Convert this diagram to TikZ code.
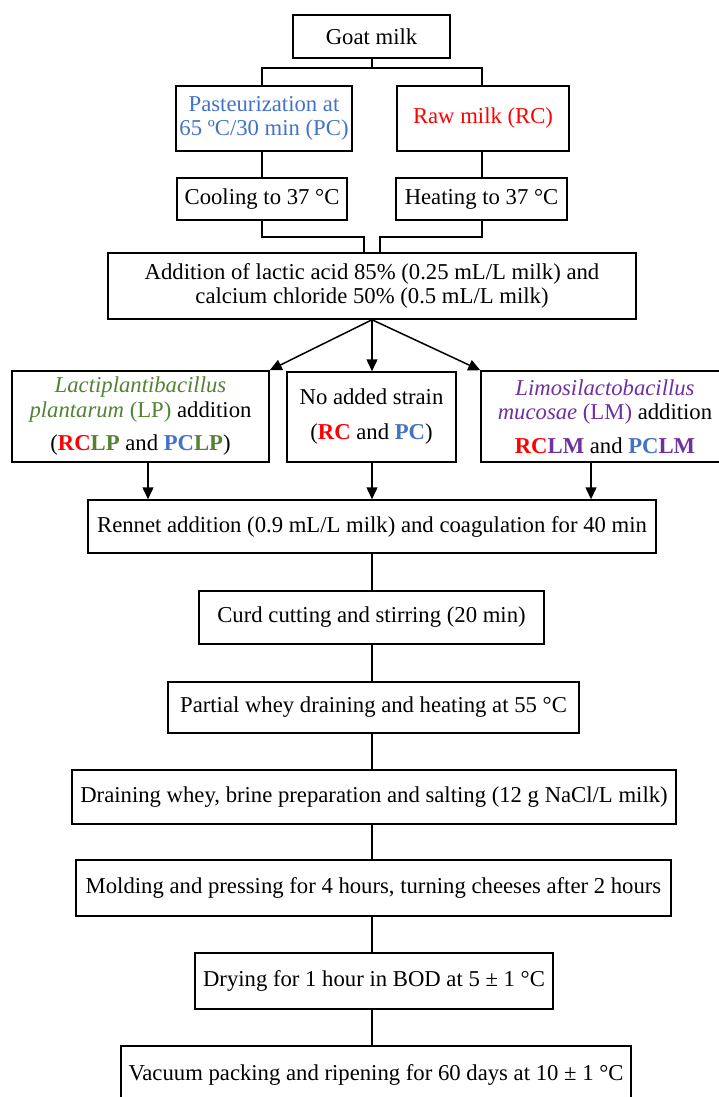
\documentclass[tikz,border=0pt]{standalone}
\usepackage{fontspec}
\setmainfont{Liberation Serif}
\usetikzlibrary{arrows.meta}
\definecolor{cblue}{HTML}{4472C4}
\definecolor{cred}{HTML}{FF0000}
\definecolor{cgreen}{HTML}{548235}
\definecolor{cpurple}{HTML}{7030A0}
\begin{document}
\begin{tikzpicture}[x=1pt,y=-1pt,
  box/.style={draw, line width=1.5pt, inner sep=0pt, align=center, font=\fontsize{22.7}{24.5}\selectfont},
  conn/.style={line width=1.5pt},
  arr/.style={line width=1.5pt, -{Triangle[length=12pt,width=11pt]}}]
\clip (0,0) rectangle (719,1097);
\fill[white] (0,0) rectangle (719,1097);

\node[box, minimum width=157pt, minimum height=43pt] (goat) at (371.5,36.5) {Goat milk};
\node[box, minimum width=176pt, minimum height=65pt, text=cblue] (past) at (264,118.5) {Pasteurization at\\65 ºC/30 min (PC)};
\node[box, minimum width=172pt, minimum height=65pt, text=cred] (raw) at (483,118.5) {Raw milk (RC)};
\node[box, minimum width=170pt, minimum height=42pt] (cool) at (262,199) {Cooling to 37 °C};
\node[box, minimum width=171pt, minimum height=42pt] (heat) at (481.5,199) {Heating to 37 °C};
\node[box, minimum width=528pt, minimum height=66pt] (add) at (372,286) {Addition of lactic acid 85\% (0.25 mL/L milk) and\\calcium chloride 50\% (0.5 mL/L milk)};

\node[box, minimum width=257pt, minimum height=91pt] (lp) at (140.5,416.5)
  {\textcolor{cgreen}{\textit{Lactiplantibacillus}}\\
   \textcolor{cgreen}{\textit{plantarum} (LP)} addition\\[9pt]
   (\textbf{\textcolor{cred}{RC}\textcolor{cgreen}{LP}} and \textbf{\textcolor{cblue}{PC}\textcolor{cgreen}{LP}})};
\node[box, minimum width=169pt, minimum height=90pt] (none) at (371.5,417)
  {No added strain\\[10.5pt]
   (\textbf{\textcolor{cred}{RC}} and \textbf{\textcolor{cblue}{PC}})};
\node[box, minimum width=248pt, minimum height=91pt] (lm) at (605,416.5)
  {\textcolor{cpurple}{\textit{Limosilactobacillus}}\\
   \textcolor{cpurple}{\textit{mucosae} (LM)} addition\\[9pt]
   \textbf{\textcolor{cred}{RC}\textcolor{cpurple}{LM}} and \textbf{\textcolor{cblue}{PC}\textcolor{cpurple}{LM}}};

\node[box, minimum width=568pt, minimum height=53pt] (rennet) at (372,526.5) {Rennet addition (0.9 mL/L milk) and coagulation for 40 min};
\node[box, minimum width=345pt, minimum height=53pt] (curd) at (371.5,617.5) {Curd cutting and stirring (20 min)};
\node[box, minimum width=411pt, minimum height=51pt] (partial) at (373.5,707.5) {Partial whey draining and heating at 55 °C};
\node[box, minimum width=604pt, minimum height=54pt] (drain) at (374,797) {Draining whey, brine preparation and salting (12 g NaCl/L milk)};
\node[box, minimum width=595pt, minimum height=56pt] (mold) at (373.5,888) {Molding and pressing for 4 hours, turning cheeses after 2 hours};
\node[box, minimum width=358pt, minimum height=56pt] (dry) at (374,981) {Drying for 1 hour in BOD at 5 ± 1 °C};
\node[box, minimum width=510pt, minimum height=58pt] (vac) at (376,1075) {Vacuum packing and ripening for 60 days at 10 ± 1 °C};

% top split
\coordinate (j1) at (372,68);
\draw[conn] (goat.south -| j1) -- (j1);
\draw[conn] (past.north -| 262,0) |- (j1) -| (raw.north -| 482,0);
% pasteurization / raw to cooling / heating
\draw[conn] (past.south -| cool.north) -- (cool.north);
\draw[conn] (raw.south -| 482,0) -- (heat.north -| 482,0);
% merge
\coordinate (ml) at (364,237);
\coordinate (mr) at (380,237);
\draw[conn] (cool.south) |- (ml) -- (add.north -| ml);
\draw[conn] (heat.south -| 482,0) |- (mr) -- (add.north -| mr);
% arrows to three boxes
\draw[arr] (add.south) -- (lp.north east);
\draw[arr] (add.south) -- (none.north -| add.south);
\draw[arr] (add.south) -- (lm.north west);
% arrows to rennet
\draw[arr] (lp.south -| 148,0) -- (rennet.north -| 148,0);
\draw[arr] (none.south -| add.south) -- (rennet.north -| add.south);
\draw[arr] (lm.south -| 591,0) -- (rennet.north -| 591,0);
% column
\draw[conn] (rennet.south) -- (curd.north -| rennet.south);
\draw[conn] (curd.south -| rennet.south) -- (partial.north -| rennet.south);
\draw[conn] (partial.south -| rennet.south) -- (drain.north -| rennet.south);
\draw[conn] (drain.south -| rennet.south) -- (mold.north -| rennet.south);
\draw[conn] (mold.south -| rennet.south) -- (dry.north -| rennet.south);
\draw[conn] (dry.south -| rennet.south) -- (vac.north -| rennet.south);
\end{tikzpicture}
\end{document}
